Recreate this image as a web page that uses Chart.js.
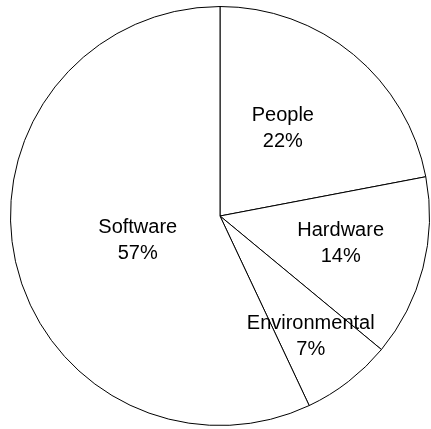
<!DOCTYPE html>
<html>
<head>
<meta charset="utf-8">
<script src="https://cdn.jsdelivr.net/npm/chart.js@4/dist/chart.umd.min.js"></script>
<style>
html,body{margin:0;padding:0;background:#fff;}
#wrap{width:431px;height:429px;position:relative;}
</style>
</head>
<body>
<div id="wrap"><canvas id="c"></canvas></div>
<script>
const categories = ["People", "Hardware", "Environmental", "Software"];
const values = [22, 14, 7, 57];
const percentLabels = ["22%", "14%", "7%", "57%"];
// label placement: [angle offset from slice middle (deg), radius fraction]
const labelPlacement = [[-4.3, 0.519], [-2.3, 0.589], [0.4, 0.713], [-2.7, 0.407]];

const labelPlugin = {
  id: 'sliceLabels',
  afterDatasetsDraw(chart) {
    const ctx = chart.ctx;
    const meta = chart.getDatasetMeta(0);
    ctx.save();
    ctx.fillStyle = '#000';
    ctx.font = '20px "Liberation Sans", Arial, sans-serif';
    ctx.textAlign = 'center';
    ctx.textBaseline = 'alphabetic';
    meta.data.forEach((arc, i) => {
      const p = arc.getProps(['x', 'y', 'startAngle', 'endAngle', 'outerRadius'], true);
      const mid = (p.startAngle + p.endAngle) / 2 + labelPlacement[i][0] * Math.PI / 180;
      const r = p.outerRadius * labelPlacement[i][1];
      const x = p.x + r * Math.cos(mid);
      const y = p.y + r * Math.sin(mid);
      ctx.fillText(categories[i], x, y - 13 + 7.2);
      ctx.fillText(percentLabels[i], x, y + 13 + 7.2);
    });
    ctx.restore();
  }
};

new Chart(document.getElementById('c'), {
  type: 'pie',
  data: {
    labels: categories,
    datasets: [{
      data: values,
      backgroundColor: '#ffffff',
      borderColor: '#000000',
      borderWidth: 1
    }]
  },
  options: {
    responsive: true,
    maintainAspectRatio: false,
    animation: false,
    layout: { padding: { left: 10, right: 1, top: 6, bottom: 3 } },
    plugins: {
      legend: { display: false },
      tooltip: { enabled: false }
    }
  },
  plugins: [labelPlugin]
});
</script>
</body>
</html>
